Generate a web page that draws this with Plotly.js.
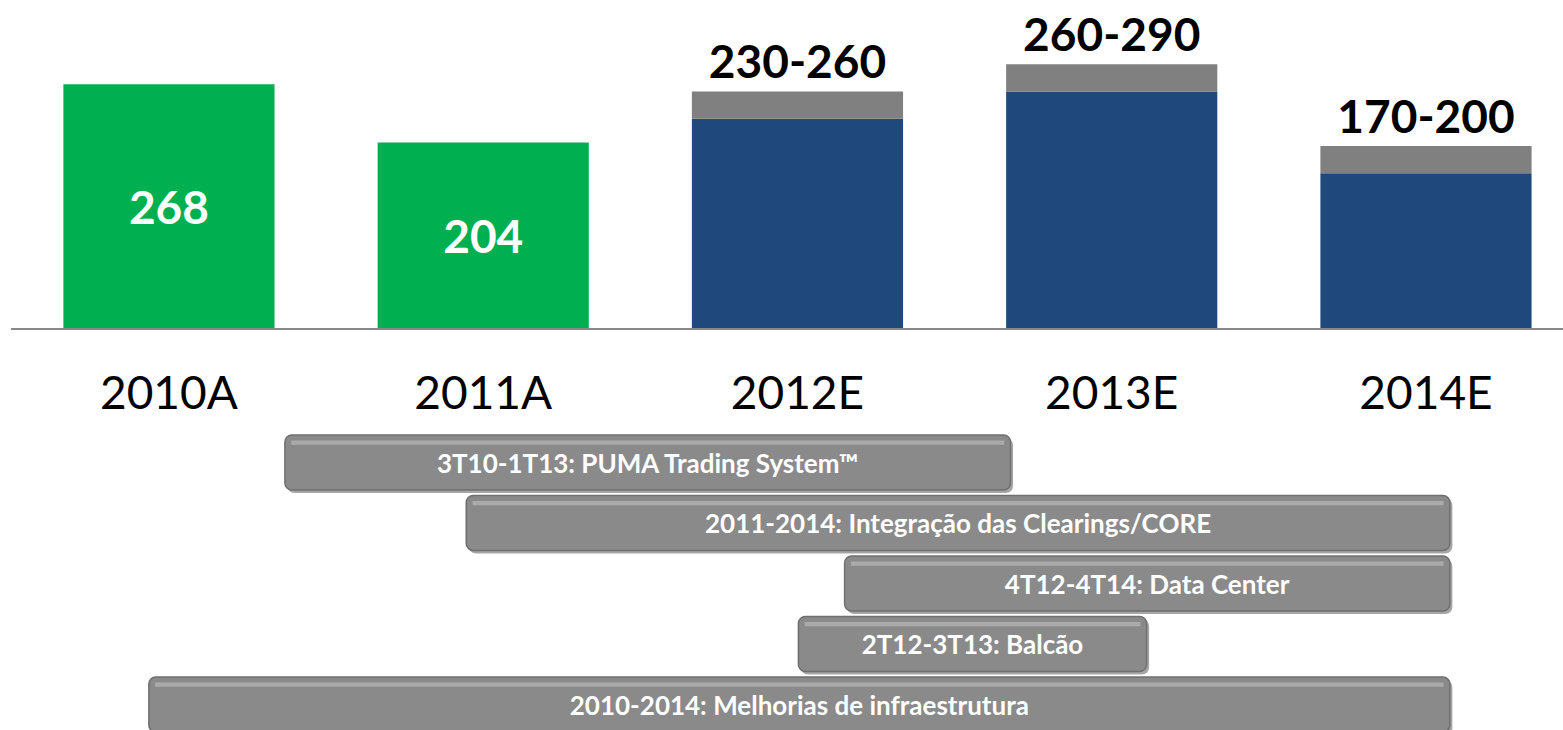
<!DOCTYPE html>
<html>
<head>
<meta charset="utf-8">
<script src="https://cdn.plot.ly/plotly-3.0.1.min.js"></script>
<style>html,body{margin:0;padding:0;background:#fff;}#chart{width:1563px;height:730px;}</style>
</head>
<body>
<div id="chart"></div>
<script>
// ---- data ----
var categories = ["2010A", "2011A", "2012E", "2013E", "2014E"];
var actualValues = [268, 204];            // 2010A, 2011A
var estimateLow = [230, 260, 170];        // 2012E-2014E lower bound
var estimateHigh = [260, 290, 200];       // 2012E-2014E upper bound
var timelineLabels = [
  "3T10-1T13: PUMA Trading System\u2122",
  "2011-2014: Integra\u00e7\u00e3o das Clearings/CORE",
  "4T12-4T14: Data Center",
  "2T12-3T13: Balc\u00e3o",
  "2010-2014: Melhorias de infraestrutura"
];
// start / end in year-position units (0 = 2010A centre, 1 = 2011A centre, ...)
var timelineStart = [0.369, 0.946, 2.150, 2.003, -0.064];
var timelineEnd = [2.678, 4.076, 4.076, 3.111, 4.076];

// ---- derived ----
var catIdx = categories.map(function (c, i) { return i; });
var actualX = catIdx.slice(0, actualValues.length);
var estX = catIdx.slice(actualValues.length);
var rangeVals = estimateHigh.map(function (h, i) { return h - estimateLow[i]; });
var rangeText = estimateLow.map(function (l, i) { return l + "-" + estimateHigh[i]; });
var rows = timelineLabels.map(function (t, i) { return i; });
var durations = timelineEnd.map(function (e, i) { return e - timelineStart[i]; });

var FONT = "Lato, 'Noto Sans', 'DejaVu Sans', sans-serif";
var BW = 0.672;
var RH = 0.909;

var traces = [
  {
    type: "bar", x: actualX, y: actualValues, width: BW,
    marker: { color: "#00B050" },
    text: actualValues.map(String), textposition: "inside", insidetextanchor: "middle",
    textfont: { family: FONT, size: 46, color: "#ffffff", weight: "bold" },
    constraintext: "none", hoverinfo: "skip"
  },
  {
    type: "bar", x: estX, y: estimateLow, width: BW,
    marker: { color: "#1F497D" }, hoverinfo: "skip"
  },
  {
    type: "bar", x: estX, y: rangeVals, base: estimateLow, width: BW,
    marker: { color: "#808080" },
    text: rangeText, textposition: "outside",
    textfont: { family: FONT, size: 46, color: "#000000", weight: "bold" },
    constraintext: "none", cliponaxis: false, hoverinfo: "skip"
  },
  // timeline shadow
  {
    type: "bar", orientation: "h", xaxis: "x", yaxis: "y2",
    y: rows.map(function (r) { return r + 0.05; }),
    x: durations, base: timelineStart.map(function (s) { return s + 0.008; }),
    width: RH,
    marker: { color: "rgba(0,0,0,0.35)", cornerradius: 7 },
    hoverinfo: "skip"
  },
  // timeline bars
  {
    type: "bar", orientation: "h", xaxis: "x", yaxis: "y2",
    y: rows, x: durations, base: timelineStart, width: RH,
    marker: { color: "#8a8a8a", line: { color: "#6f6f6f", width: 1.5 }, cornerradius: 7 },
    text: timelineLabels, textposition: "inside", insidetextanchor: "middle",
    textfont: { family: FONT, size: 26, color: "#ffffff", weight: "bold" },
    constraintext: "none", hoverinfo: "skip"
  },
  // top highlight band
  {
    type: "bar", orientation: "h", xaxis: "x", yaxis: "y2",
    y: rows.map(function (r) { return r - 0.33; }),
    x: durations.map(function (d) { return d - 0.04; }),
    base: timelineStart.map(function (s) { return s + 0.02; }),
    width: 0.07,
    marker: { color: "rgba(255,255,255,0.28)" },
    hoverinfo: "skip"
  }
];

var layout = {
  width: 1563, height: 730,
  margin: { l: 0, r: 0, t: 0, b: 0, pad: 0 },
  paper_bgcolor: "#ffffff", plot_bgcolor: "rgba(0,0,0,0)",
  barmode: "overlay",
  showlegend: false,
  font: { family: FONT },
  xaxis: {
    domain: [0.007, 1],
    range: [-0.5028, 4.436],
    tickmode: "array", tickvals: catIdx, ticktext: categories,
    tickfont: { family: FONT, size: 46, color: "#000000" },
    ticks: "", ticklabelstandoff: 23,
    showline: true, linecolor: "#898989", linewidth: 2.5,
    showgrid: false, zeroline: false, anchor: "y", fixedrange: true
  },
  yaxis: {
    domain: [0.5507, 1], range: [0, 360.5],
    visible: false, showgrid: false, zeroline: false, fixedrange: true
  },
  yaxis2: {
    domain: [0, 0.452], range: [4.421, -1.033],
    visible: false, showgrid: false, zeroline: false, fixedrange: true, anchor: "x"
  }
};

Plotly.newPlot("chart", traces, layout, { staticPlot: true, displayModeBar: false });
</script>
</body>
</html>
